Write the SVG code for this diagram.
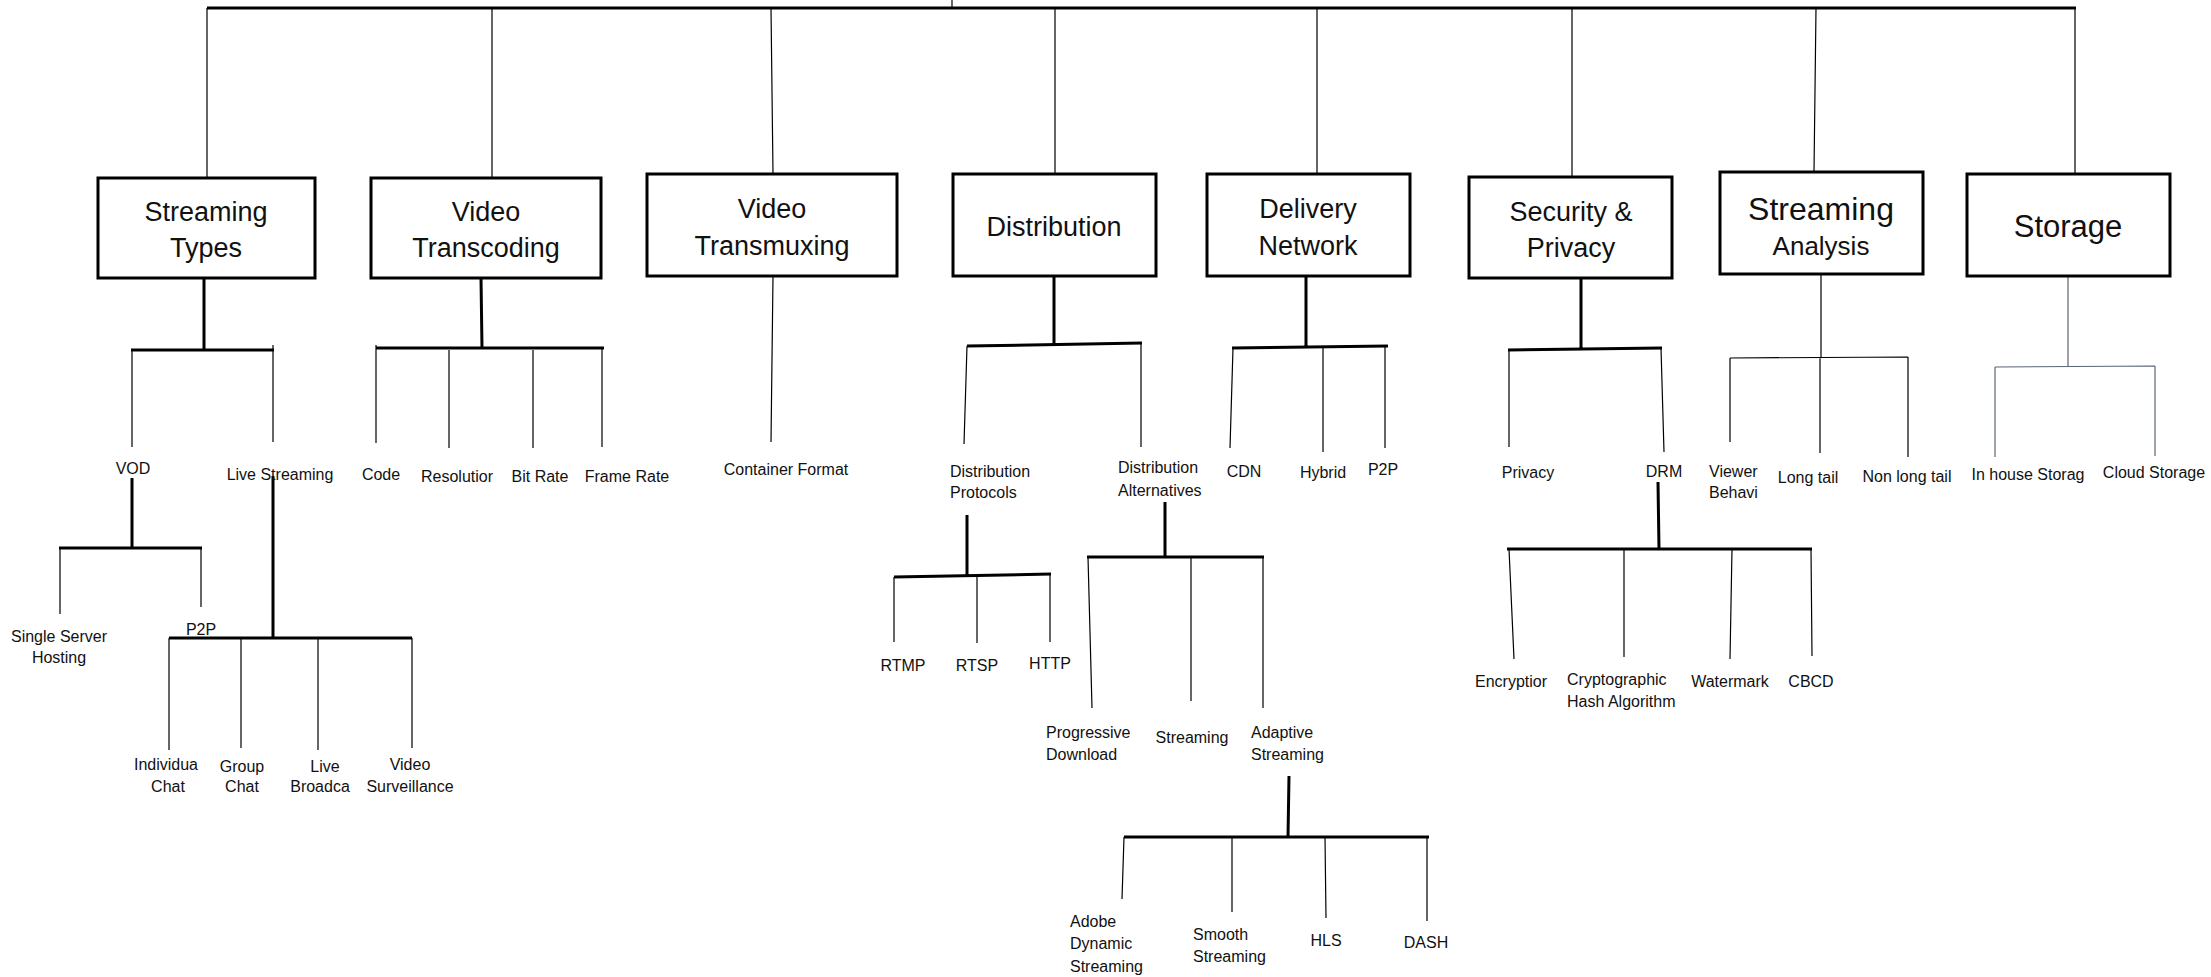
<svg xmlns="http://www.w3.org/2000/svg" width="2211" height="977" viewBox="0 0 2211 977">
<style>
.box{fill:#fff;stroke:#000;stroke-width:3}
.t{font-family:"Liberation Sans",Arial,sans-serif;fill:#111}
.h{font-size:27px;text-anchor:middle}
.s{font-size:16px}
.m{text-anchor:middle}
.thin{stroke:#000;stroke-width:1.2;fill:none}
.thick{stroke:#000;stroke-width:3;fill:none}
.gray{stroke:#5b6672;stroke-width:1.2;fill:none}
</style>
<rect width="2211" height="977" fill="#fff"/>
<g id="connectors">
  <path class="thick" d="M207 8 H2076"/>
  <path class="thin" d="M952 0 V8 M207 8 V178 M492 8 V178 M771 8 L773 174 M1055 8 V174 M1317 8 V174 M1572 8 V177 M1816 8 L1814 172 M2075 8 V174"/>
  <!-- Streaming Types -->
  <path class="thick" d="M204 278 V350 M131 350 H274"/>
  <path class="thin" d="M132 350 V447 M273 345 V442"/>
  <path class="thick" d="M132 478 V548 M59 548 H202"/>
  <path class="thin" d="M60 548 V614 M201 548 V607"/>
  <path class="thick" d="M273 476 V638 M169 638 H412"/>
  <path class="thin" d="M169 638 V750 M241 638 V748 M318 638 V750 M412 638 V748"/>
  <!-- Video Transcoding -->
  <path class="thick" d="M481 278 L482 348 M376 348 H604"/>
  <path class="thin" d="M376 345 V443 M449 350 V448 M533 350 V448 M602 348 V447"/>
  <!-- Video Transmuxing -->
  <path class="thin" d="M773 276 L771 442"/>
  <!-- Distribution -->
  <path class="thick" d="M1054 276 V345 M967 346 L1142 343"/>
  <path class="thin" d="M967 346 L964 444 M1141 343 V447"/>
  <path class="thick" d="M967 515 V576 M894 577 L1051 574"/>
  <path class="thin" d="M894 577 V642 M977 576 V643 M1050 574 V642"/>
  <path class="thick" d="M1165 502 V557 M1087 557 H1264"/>
  <path class="thin" d="M1088 557 L1092 708 M1191 557 V701 M1263 557 V708"/>
  <path class="thick" d="M1289 776 L1288 837 M1124 837 H1429"/>
  <path class="thin" d="M1124 837 L1122 899 M1232 837 V912 M1325 837 L1326 918 M1427 837 V921"/>
  <!-- Delivery Network -->
  <path class="thick" d="M1306 276 V347 M1232 348 L1388 346"/>
  <path class="thin" d="M1233 348 L1230 448 M1323 347 V452 M1385 346 V448"/>
  <!-- Security & Privacy -->
  <path class="thick" d="M1581 278 V349 M1508 350 L1662 348"/>
  <path class="thin" d="M1509 350 V447 M1661 348 L1664 452"/>
  <path class="thick" d="M1658 482 L1659 549 M1507 549 H1812"/>
  <path class="thin" d="M1509 549 L1514 659 M1624 549 V657 M1732 549 L1730 659 M1811 549 L1812 656"/>
  <!-- Streaming Analysis -->
  <path class="thin" d="M1821 274 V357 M1730 358 L1908 357 M1730 358 V442 M1820 357 V453 M1908 357 V457"/>
  <!-- Storage -->
  <path class="gray" d="M2068 276 V366 M1995 367 L2155 366 M1995 367 V457 M2155 366 V456"/>
</g>
<g id="streaming-types">
  <rect class="box" x="98" y="178" width="217" height="100"/>
  <text class="t h" x="206" y="221">Streaming</text>
  <text class="t h" x="206" y="257">Types</text>
</g>
<g id="video-transcoding">
  <rect class="box" x="371" y="178" width="230" height="100"/>
  <text class="t h" x="486" y="221">Video</text>
  <text class="t h" x="486" y="257">Transcoding</text>
</g>
<g id="video-transmuxing">
  <rect class="box" x="647" y="174" width="250" height="102"/>
  <text class="t h" x="772" y="218">Video</text>
  <text class="t h" x="772" y="255">Transmuxing</text>
</g>
<g id="distribution">
  <rect class="box" x="953" y="174" width="203" height="102"/>
  <text class="t h" x="1054" y="236">Distribution</text>
</g>
<g id="delivery-network">
  <rect class="box" x="1207" y="174" width="203" height="102"/>
  <text class="t h" x="1308" y="218">Delivery</text>
  <text class="t h" x="1308" y="255">Network</text>
</g>
<g id="security-privacy">
  <rect class="box" x="1469" y="177" width="203" height="101"/>
  <text class="t h" x="1571" y="221">Security &amp;</text>
  <text class="t h" x="1571" y="257">Privacy</text>
</g>
<g id="streaming-analysis">
  <rect class="box" x="1720" y="172" width="203" height="102"/>
  <text class="t m" x="1821" y="220" font-size="32">Streaming</text>
  <text class="t m" x="1821" y="255" font-size="26">Analysis</text>
</g>
<g id="storage">
  <rect class="box" x="1967" y="174" width="203" height="102"/>
  <text class="t m" x="2068" y="237" font-size="31">Storage</text>
</g>
<g id="vod"><text class="t s m" x="133" y="474">VOD</text></g>
<g id="live-streaming"><text class="t s m" x="280" y="480">Live Streaming</text></g>
<g id="single-server"><text class="t s m" x="59" y="642">Single Server</text><text class="t s m" x="59" y="663">Hosting</text></g>
<g id="p2p-vod"><text class="t s m" x="201" y="635">P2P</text></g>
<g id="individual-chat"><text class="t s m" x="166" y="770">Individua</text><text class="t s m" x="168" y="792">Chat</text></g>
<g id="group-chat"><text class="t s m" x="242" y="772">Group</text><text class="t s m" x="242" y="792">Chat</text></g>
<g id="live-broadcast"><text class="t s m" x="325" y="772">Live</text><text class="t s m" x="320" y="792">Broadca</text></g>
<g id="video-surveillance"><text class="t s m" x="410" y="770">Video</text><text class="t s m" x="410" y="792">Surveillance</text></g>
<g id="code"><text class="t s m" x="381" y="480">Code</text></g>
<g id="resolution"><text class="t s m" x="457" y="482">Resolutior</text></g>
<g id="bit-rate"><text class="t s m" x="540" y="482">Bit Rate</text></g>
<g id="frame-rate"><text class="t s m" x="627" y="482">Frame Rate</text></g>
<g id="container-format"><text class="t s m" x="786" y="475">Container Format</text></g>
<g id="distribution-protocols"><text class="t s" x="950" y="477">Distribution</text><text class="t s" x="950" y="498">Protocols</text></g>
<g id="distribution-alternatives"><text class="t s" x="1118" y="473">Distribution</text><text class="t s" x="1118" y="496">Alternatives</text></g>
<g id="rtmp"><text class="t s m" x="903" y="671">RTMP</text></g>
<g id="rtsp"><text class="t s m" x="977" y="671">RTSP</text></g>
<g id="http"><text class="t s m" x="1050" y="669">HTTP</text></g>
<g id="progressive-download"><text class="t s" x="1046" y="738">Progressive</text><text class="t s" x="1046" y="760">Download</text></g>
<g id="streaming-alt"><text class="t s m" x="1192" y="743">Streaming</text></g>
<g id="adaptive-streaming"><text class="t s" x="1251" y="738">Adaptive</text><text class="t s" x="1251" y="760">Streaming</text></g>
<g id="adobe"><text class="t s" x="1070" y="927">Adobe</text><text class="t s" x="1070" y="949">Dynamic</text><text class="t s" x="1070" y="972">Streaming</text></g>
<g id="smooth"><text class="t s" x="1193" y="940">Smooth</text><text class="t s" x="1193" y="962">Streaming</text></g>
<g id="hls"><text class="t s m" x="1326" y="946">HLS</text></g>
<g id="dash"><text class="t s m" x="1426" y="948">DASH</text></g>
<g id="cdn"><text class="t s m" x="1244" y="477">CDN</text></g>
<g id="hybrid"><text class="t s m" x="1323" y="478">Hybrid</text></g>
<g id="p2p-net"><text class="t s m" x="1383" y="475">P2P</text></g>
<g id="privacy"><text class="t s m" x="1528" y="478">Privacy</text></g>
<g id="drm"><text class="t s m" x="1664" y="477">DRM</text></g>
<g id="encryption"><text class="t s m" x="1511" y="687">Encryptior</text></g>
<g id="hash"><text class="t s" x="1567" y="685">Cryptographic</text><text class="t s" x="1567" y="707">Hash Algorithm</text></g>
<g id="watermark"><text class="t s m" x="1730" y="687">Watermark</text></g>
<g id="cbcd"><text class="t s m" x="1811" y="687">CBCD</text></g>
<g id="viewer"><text class="t s" x="1709" y="477">Viewer</text><text class="t s" x="1709" y="498">Behavi</text></g>
<g id="long-tail"><text class="t s m" x="1808" y="483">Long tail</text></g>
<g id="non-long-tail"><text class="t s m" x="1907" y="482">Non long tail</text></g>
<g id="in-house"><text class="t s m" x="2028" y="480">In house Storag</text></g>
<g id="cloud"><text class="t s m" x="2154" y="478">Cloud Storage</text></g>
</svg>
